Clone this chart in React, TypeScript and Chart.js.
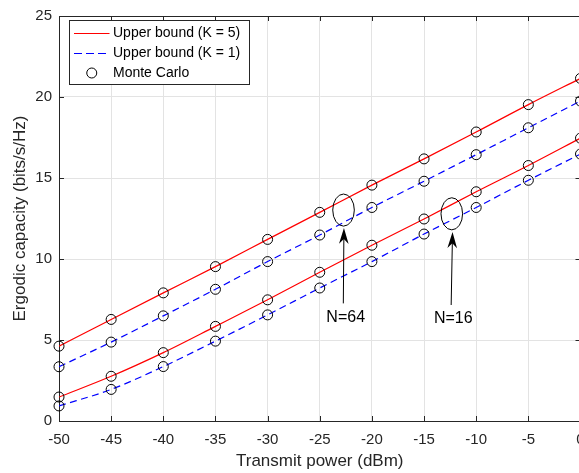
import { useEffect, useRef } from "react";
import { Chart, registerables } from "chart.js";

Chart.register(...registerables);

// ---- data ----
const powerDbm = [-50, -45, -40, -35, -30, -25, -20, -15, -10, -5, 0];
const boundN64K5 = [4.62, 6.27, 7.91, 9.53, 11.21, 12.88, 14.56, 16.18, 17.84, 19.53, 21.15];
const boundN64K1 = [3.35, 4.87, 6.49, 8.13, 9.84, 11.48, 13.18, 14.8, 16.44, 18.1, 19.75];
const boundN16K5 = [1.48, 2.76, 4.22, 5.84, 7.48, 9.18, 10.85, 12.47, 14.15, 15.77, 17.46];
const boundN16K1 = [0.93, 1.95, 3.36, 4.93, 6.55, 8.21, 9.84, 11.54, 13.18, 14.86, 16.48];
const mcN64K5 = [4.62, 6.27, 7.91, 9.53, 11.21, 12.88, 14.56, 16.18, 17.84, 19.53, 21.15];
const mcN64K1 = [3.35, 4.87, 6.49, 8.13, 9.84, 11.48, 13.18, 14.8, 16.44, 18.1, 19.75];
const mcN16K5 = [1.48, 2.76, 4.22, 5.84, 7.48, 9.18, 10.85, 12.47, 14.15, 15.77, 17.46];
const mcN16K1 = [0.93, 1.95, 3.36, 4.93, 6.55, 8.21, 9.84, 11.54, 13.18, 14.86, 16.48];

const xMin = -50;
const xMax = 0;
const xStep = 5;
const yMin = 0;
const yMax = 25;
const yStep = 5;

const legendLabels = ["Upper bound (K = 5)", "Upper bound (K = 1)", "Monte Carlo"];
const xTitle = "Transmit power (dBm)";
const yTitle = "Ergodic capacity (bits/s/Hz)";

// annotations in data coordinates
const annotations = [
  { label: "N=64", ex: -22.72, ey: 13.02, tipX: -22.68, tipY: 11.92, baseX: -22.74, baseY: 7.26, tx: -22.51, ty: 6.4 },
  { label: "N=16", ex: -12.34, ey: 12.79, tipX: -12.27, tipY: 11.66, baseX: -12.4, baseY: 7.16, tx: -12.2, ty: 6.34 },
];
const ellipseRx = 1.035;
const ellipseRy = 0.99;

const FONT = "'Liberation Sans', Arial, Helvetica, sans-serif";
const AXIS_COLOR = "#262626";
const RED = "#ff0000";
const BLUE = "#0000ff";
const DASH = [7, 4.5];
const LINE_W = 1.2;

const pts = (ys: number[]) => powerDbm.map((x, i) => ({ x, y: ys[i] }));

const lineDs = (ys: number[], color: string, dashed: boolean) => ({
  data: pts(ys),
  borderColor: color,
  borderWidth: LINE_W,
  borderDash: dashed ? DASH : [],
  pointRadius: 0,
  fill: false,
  cubicInterpolationMode: "monotone" as const,
  order: 2,
});

const markerDs = (ys: number[]) => ({
  data: pts(ys),
  showLine: false,
  pointRadius: 5,
  pointStyle: "circle" as const,
  pointBorderColor: "#000000",
  pointBackgroundColor: "rgba(0,0,0,0)",
  pointBorderWidth: 1,
  clip: false as const,
  order: 1,
});

const decorPlugin = {
  id: "decor",
  afterDraw(chart: any) {
    const { ctx, chartArea, scales } = chart;
    const { left, right, top, bottom } = chartArea;
    const xs = scales.x;
    const ys = scales.y;
    const al = (v: number) => Math.round(v) + 0.5;
    ctx.save();
    ctx.strokeStyle = AXIS_COLOR;
    ctx.lineWidth = 1;
    ctx.setLineDash([]);
    // top & right box lines
    ctx.beginPath();
    ctx.moveTo(left, al(top));
    ctx.lineTo(right, al(top));
    ctx.moveTo(al(right), top);
    ctx.lineTo(al(right), bottom);
    ctx.stroke();
    // inward ticks
    const tl = 5;
    ctx.beginPath();
    for (let v = xMin; v <= xMax; v += xStep) {
      const px = al(xs.getPixelForValue(v));
      ctx.moveTo(px, bottom);
      ctx.lineTo(px, bottom - tl);
      ctx.moveTo(px, top);
      ctx.lineTo(px, top + tl);
    }
    for (let v = yMin; v <= yMax; v += yStep) {
      const py = al(ys.getPixelForValue(v));
      ctx.moveTo(left, py);
      ctx.lineTo(left + tl, py);
      ctx.moveTo(right, py);
      ctx.lineTo(right - tl, py);
    }
    ctx.stroke();

    // annotations
    ctx.strokeStyle = "#000000";
    ctx.fillStyle = "#000000";
    for (const a of annotations) {
      const cx = xs.getPixelForValue(a.ex);
      const cy = ys.getPixelForValue(a.ey);
      const rx = xs.getPixelForValue(a.ex + ellipseRx) - cx;
      const ry = cy - ys.getPixelForValue(a.ey + ellipseRy);
      ctx.beginPath();
      ctx.ellipse(cx, cy, rx, ry, 0, 0, Math.PI * 2);
      ctx.stroke();

      const tx = xs.getPixelForValue(a.tipX);
      const ty = ys.getPixelForValue(a.tipY);
      const bx = xs.getPixelForValue(a.baseX);
      const by = ys.getPixelForValue(a.baseY);
      const ang = Math.atan2(ty - by, tx - bx);
      const headLen = 16;
      const headW = 4.8;
      const ux = Math.cos(ang);
      const uy = Math.sin(ang);
      const backX = tx - ux * headLen;
      const backY = ty - uy * headLen;
      ctx.beginPath();
      ctx.moveTo(bx, by);
      ctx.lineTo(tx - ux * 8, ty - uy * 8);
      ctx.stroke();
      ctx.beginPath();
      ctx.moveTo(tx, ty);
      ctx.lineTo(backX - uy * headW, backY + ux * headW);
      ctx.lineTo(tx - ux * headLen * 0.7, ty - uy * headLen * 0.7);
      ctx.lineTo(backX + uy * headW, backY - ux * headW);
      ctx.closePath();
      ctx.fill();

      ctx.font = `16px ${FONT}`;
      ctx.textAlign = "center";
      ctx.textBaseline = "middle";
      ctx.fillText(a.label, xs.getPixelForValue(a.tx), ys.getPixelForValue(a.ty));
    }

    // legend box
    const lx = 69.5;
    const ly = 20.5;
    const lw = 180;
    const lh = 64;
    ctx.fillStyle = "#ffffff";
    ctx.fillRect(lx, ly, lw, lh);
    ctx.strokeStyle = AXIS_COLOR;
    ctx.lineWidth = 1;
    ctx.strokeRect(lx, ly, lw, lh);
    const rows = [33.5, 53.5, 73];
    const sx0 = 74;
    const sx1 = 109.5;
    ctx.lineWidth = LINE_W;
    // row 1: red solid
    ctx.strokeStyle = RED;
    ctx.beginPath();
    ctx.moveTo(sx0, rows[0]);
    ctx.lineTo(sx1, rows[0]);
    ctx.stroke();
    // row 2: blue dashed
    ctx.strokeStyle = BLUE;
    ctx.setLineDash([8, 4]);
    ctx.beginPath();
    ctx.moveTo(sx0, rows[1]);
    ctx.lineTo(sx1, rows[1]);
    ctx.stroke();
    ctx.setLineDash([]);
    // row 3: circle
    ctx.lineWidth = 1;
    ctx.strokeStyle = "#000000";
    ctx.beginPath();
    ctx.arc((sx0 + sx1) / 2, rows[2], 5, 0, Math.PI * 2);
    ctx.stroke();
    ctx.fillStyle = "#000000";
    ctx.font = `14px ${FONT}`;
    ctx.textAlign = "left";
    ctx.textBaseline = "middle";
    legendLabels.forEach((t, i) => ctx.fillText(t, 113, rows[i]));
    ctx.restore();
  },
};

export default function App() {
  const ref = useRef<HTMLCanvasElement>(null);
  useEffect(() => {
    const canvas = ref.current;
    if (!canvas) return;
    const chart = new Chart(canvas, {
      type: "line",
      data: {
        datasets: [
          lineDs(boundN64K5, RED, false),
          lineDs(boundN64K1, BLUE, true),
          lineDs(boundN16K5, RED, false),
          lineDs(boundN16K1, BLUE, true),
          markerDs(mcN64K5),
          markerDs(mcN64K1),
          markerDs(mcN16K5),
          markerDs(mcN16K1),
        ] as any,
      },
      options: {
        animation: false,
        responsive: false,
        devicePixelRatio: 1,
        layout: { padding: { top: 10, right: 19.5, left: 0, bottom: 0 } },
        plugins: { legend: { display: false }, tooltip: { enabled: false } },
        events: [],
        scales: {
          x: {
            type: "linear",
            min: xMin,
            max: xMax,
            afterFit: (s: any) => {
              s.height = 52;
            },
            ticks: {
              stepSize: xStep,
              color: AXIS_COLOR,
              font: { family: FONT, size: 15 },
              padding: 10,
              maxRotation: 0,
              autoSkip: false,
            },
            grid: { color: "#e3e3e3", drawTicks: false, lineWidth: 1 },
            border: { display: true, color: AXIS_COLOR, width: 1 },
            title: {
              display: true,
              text: xTitle,
              color: AXIS_COLOR,
              font: { family: FONT, size: 17 },
              padding: { top: 0, bottom: 1 },
            },
          },
          y: {
            type: "linear",
            min: yMin,
            max: yMax,
            afterFit: (s: any) => {
              s.width = 59;
            },
            ticks: {
              stepSize: yStep,
              color: AXIS_COLOR,
              font: { family: FONT, size: 15 },
              padding: 7,
            },
            grid: { color: "#e3e3e3", drawTicks: false, lineWidth: 1 },
            border: { display: true, color: AXIS_COLOR, width: 1 },
            title: {
              display: true,
              text: yTitle,
              color: AXIS_COLOR,
              font: { family: FONT, size: 17 },
              padding: { top: 10, bottom: 0 },
            },
          },
        },
      },
      plugins: [decorPlugin],
    });
    return () => chart.destroy();
  }, []);
  return (
    <div
      style={{
        position: "fixed",
        left: 0,
        top: 0,
        width: 579,
        height: 473,
        overflow: "hidden",
        background: "#ffffff",
      }}
    >
      <canvas ref={ref} width={600} height={473} style={{ display: "block", width: 600, height: 473 }} />
    </div>
  );
}
